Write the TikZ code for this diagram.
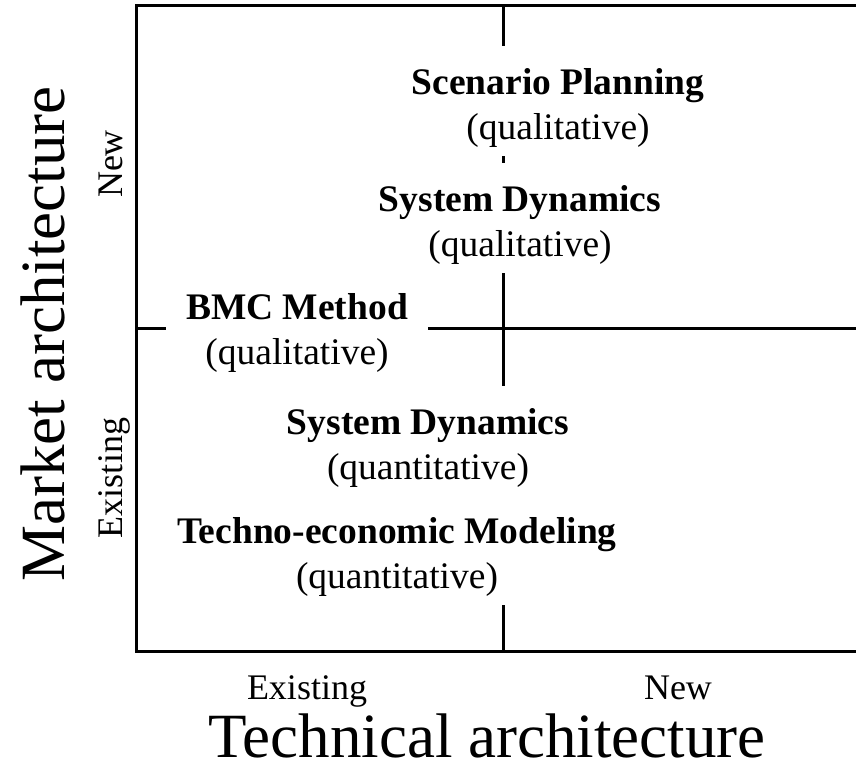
\documentclass[tikz,border=0pt]{standalone}
\usepackage{fontspec}
\setmainfont{Liberation Serif}
\newcommand\mytopstrut{\rule{0pt}{39pt}}
\begin{document}
\begin{tikzpicture}[x=1pt,y=-1pt,
  frame/.style={line width=3pt, line join=miter},
  method/.style={fill=white, align=center, inner xsep=20pt, inner ysep=9.5pt,
    font=\fontsize{37.5}{45}\selectfont},
  ticklabel/.style={font=\fontsize{36}{43}\selectfont, anchor=base},
  axislabel/.style={font=\fontsize{63}{75}\selectfont, anchor=base}]
\useasboundingbox (0,0) rectangle (856,770);
\coordinate (TL) at (136,6);
\coordinate (TR) at (857,6);
\coordinate (BL) at (136,651);
\coordinate (BR) at (857,651);
\coordinate (MT) at (503,6);
\coordinate (MB) at (503,651);
\coordinate (ML) at (136,328);
\coordinate (MR) at (857,328);
\draw[frame] (TR) -- (TL) -- (BL) -- (BR);
\draw[frame] (MT) -- (MB);
\draw[frame] (ML) -- (MR);
\node[method] (sp) at (558,101) {\mytopstrut\textbf{Scenario Planning}\\(qualitative)};
\node[method] (sdq) at (520,218) {\mytopstrut\textbf{System Dynamics}\\(qualitative)};
\node[method] (bmc) at (297,326) {\mytopstrut\textbf{BMC Method}\\(qualitative)};
\node[method] (sdn) at (428,441) {\mytopstrut\textbf{System Dynamics}\\(quantitative)};
\node[method] (tem) at (397,550) {\mytopstrut\textbf{Techno-economic Modeling}\\(quantitative)};
\node[ticklabel, rotate=90] (ynew) at (122,164) {New};
\node[ticklabel, rotate=90] (yex) at (122,478) {Existing};
\node[axislabel, rotate=90] (ylab) at (64,334) {Market architecture};
\node[ticklabel] (xex) at (307,699) {Existing};
\node[ticklabel] (xnew) at (678,699) {New};
\node[axislabel] (xlab) at (487,757) {Technical architecture};
\end{tikzpicture}
\end{document}
